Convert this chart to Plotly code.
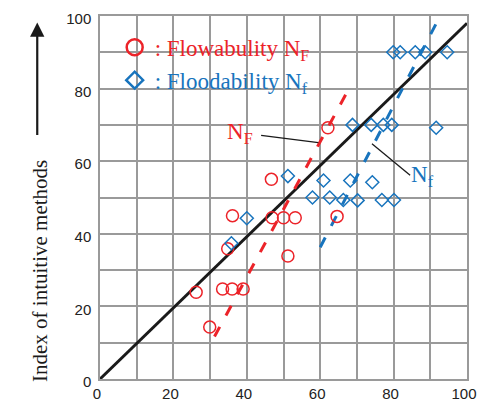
import plotly.graph_objects as go

# ---- data ----
flow_x = [26.2, 29.9, 33.4, 36.0, 39.0, 34.8, 36.1, 46.7, 46.9, 50.0, 53.2, 51.2, 64.6, 62.1]
flow_y = [23.9, 14.3, 24.8, 24.8, 24.8, 35.9, 45.0, 55.0, 44.4, 44.4, 44.4, 33.9, 44.8, 69.2]

flood_x = [35.8, 40.0, 51.2, 57.9, 60.9, 62.6, 66.3, 68.2, 70.2, 74.2, 76.8, 80.1,
           68.8, 73.9, 77.2, 79.5, 91.6, 79.9, 81.8, 85.9, 88.6, 94.6]
flood_y = [37.4, 44.3, 55.9, 50.0, 54.7, 50.0, 49.3, 54.7, 49.2, 54.2, 49.3, 49.3,
           70.0, 70.0, 70.0, 70.0, 69.2, 90.0, 90.0, 90.0, 90.0, 90.0]

diag_x = [0, 100]
diag_y = [0, 98]
fitF_x = [31.2, 67.3]
fitF_y = [11.7, 79.0]
fitf_x = [60.0, 91.8]
fitf_y = [36.3, 98.3]

tick_vals = [0, 20, 40, 60, 80, 100]
tick_text = ["0", "20", "40", "60", "80", "100"]

RED = "#ec2329"
BLUE = "#1874bd"
SERIF = "Liberation Serif"
NARROW = "Liberation Sans Narrow, Liberation Sans"

fig = go.Figure()

fig.add_trace(go.Scatter(x=diag_x, y=diag_y, mode="lines",
                         line=dict(color="#1a1a1a", width=3), showlegend=False))
fig.add_trace(go.Scatter(x=fitF_x, y=fitF_y, mode="lines",
                         line=dict(color=RED, width=3, dash="11px,13px"), showlegend=False))
fig.add_trace(go.Scatter(x=fitf_x, y=fitf_y, mode="lines",
                         line=dict(color=BLUE, width=3, dash="11px,13px"), showlegend=False))

fig.add_trace(go.Scatter(x=flow_x, y=flow_y, mode="markers", showlegend=False,
                         marker=dict(symbol="circle-open", size=12, color=RED,
                                     line=dict(color=RED, width=1.5))))
fig.add_trace(go.Scatter(x=flood_x, y=flood_y, mode="markers", showlegend=False,
                         marker=dict(symbol="diamond-open", size=10, color=BLUE,
                                     line=dict(color=BLUE, width=1.5))))

# legend-only entries
fig.add_trace(go.Scatter(x=[None], y=[None], mode="markers",
                         name=f'<span style="color:{RED}">: Flowabulity N<sub>F</sub></span>',
                         marker=dict(symbol="circle-open", size=17, color=RED,
                                     line=dict(color=RED, width=2.5))))
fig.add_trace(go.Scatter(x=[None], y=[None], mode="markers",
                         name=f'<span style="color:{BLUE}">: Floodability N<sub>f</sub></span>',
                         marker=dict(symbol="diamond-open", size=13, color=BLUE,
                                     line=dict(color=BLUE, width=2.5))))

# leader lines
fig.add_shape(type="line", x0=43.9, y0=67.1, x1=59.5, y1=65.1,
              line=dict(color="#1a1a1a", width=1.3))
fig.add_shape(type="line", x0=74.1, y0=64.8, x1=84.5, y1=56.1,
              line=dict(color="#1a1a1a", width=1.3))

fig.add_annotation(x=38.2, y=67.9, text="N<sub>F</sub>", showarrow=False,
                   font=dict(family=SERIF, size=23, color=RED))
fig.add_annotation(x=87.8, y=55.8, text="N<sub>f</sub>", showarrow=False,
                   font=dict(family=SERIF, size=23, color=BLUE))

# y title and arrow
fig.add_annotation(xref="paper", yref="paper", x=-0.163, y=0.298,
                   xanchor="center", yanchor="middle",
                   text="Index of intuitive methods", textangle=-90, showarrow=False,
                   font=dict(family=SERIF, size=21, color="#1a1a1a"))
fig.add_annotation(xref="paper", yref="paper", x=-0.171, y=0.982, text="",
                   showarrow=True, axref="pixel", ayref="pixel", ax=0, ay=114,
                   arrowhead=2, arrowsize=1.3, arrowwidth=2.2, arrowcolor="#1a1a1a")

axis_common = dict(range=[0, 100], showgrid=True, gridcolor="#9a9a9a",
                   gridwidth=1.5, showline=True, linecolor="#9a9a9a", linewidth=1.5,
                   mirror=True, zeroline=False, ticks="", fixedrange=True,
                   automargin=False,
                   tickmode="array", tickvals=tick_vals, ticktext=tick_text,
                   tickfont=dict(family=NARROW, size=15, color="#222"),
                   minor=dict(showgrid=True, dtick=10, tick0=0,
                              gridcolor="#9a9a9a", gridwidth=1.5))

fig.update_xaxes(**axis_common, ticklabelshift=-3)
fig.update_yaxes(**axis_common, ticklabelshift=3, ticklabelstandoff=4)

fig.update_layout(
    template="none",
    width=493, height=401,
    margin=dict(l=100, r=26, t=16, b=22, autoexpand=False),
    paper_bgcolor="white", plot_bgcolor="white",
    showlegend=True,
    legend=dict(x=0.04, y=0.973, xanchor="left", yanchor="top",
                bgcolor="rgba(0,0,0,0)", borderwidth=0,
                font=dict(family=SERIF, size=23), tracegroupgap=0),
)

fig.write_html("out.html", config={"displayModeBar": False},
               post_script="document.body.style.margin='0';document.body.style.overflow='hidden';")
